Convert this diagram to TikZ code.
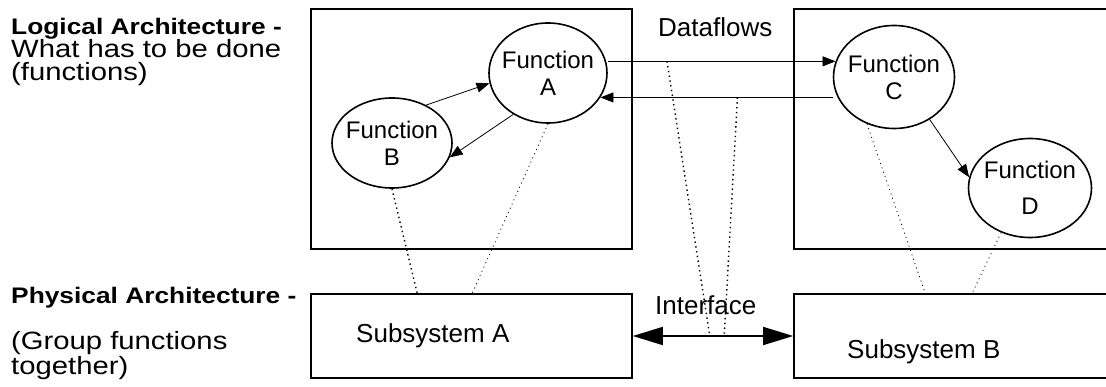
\documentclass[tikz,border=0pt]{standalone}
\usepackage{fontspec}
\setmainfont{Liberation Sans}
\newfontfamily\widesans[FakeStretch=1.17]{Liberation Sans}
\usetikzlibrary{arrows.meta, positioning, shapes.geometric}

\begin{document}
\begin{tikzpicture}[x=1pt, y=-1pt, >={Triangle[length=13pt, width=10pt]}]
      \tikzstyle{frameBox} = [rectangle, draw=black, line width=1.6pt, minimum width=321pt, inner sep=0pt]
      \tikzstyle{funcNode} = [ellipse, draw=black, line width=1.6pt, inner xsep=-5pt, inner ysep=0pt, align=center, font=\fontsize{24}{27}\selectfont]
      \tikzstyle{myText} = [anchor=base west, inner sep=0pt, font=\fontsize{26}{26}\selectfont]
      \tikzstyle{sideText} = [anchor=base west, inner sep=0pt, align=left, font=\widesans\fontsize{25}{23}\selectfont]
      \tikzstyle{flow} = [draw=black, line width=0.8pt, ->]
      \tikzstyle{ifArrow} = [draw=black, line width=1.6pt, {Triangle[length=30pt, width=18pt]}-{Triangle[length=30pt, width=18pt]}]
      \tikzstyle{mapLine} = [draw=black, line width=1.4pt, dash pattern=on 1.4pt off 3.4pt]
      \tikzstyle{mapLineThin} = [draw=black, line width=0.8pt, dash pattern=on 1pt off 3.6pt]

      \useasboundingbox (0,0) rectangle (1106,387);
      \clip (0,0) rectangle (1106,387);

      % Nodos
      \node [frameBox, minimum height=240pt] at (471.5,129) (logicA) {};
      \node [frameBox, minimum height=240pt] at (954.5,129) (logicB) {};
      \node [frameBox, minimum height=84pt] at (471.5,336) (subA) {};
      \node [frameBox, minimum height=84pt] at (954.5,336) (subB) {};

      \node [funcNode, minimum width=118pt, minimum height=100pt] at (548,73) (funcA) {Function\\A};
      \node [funcNode, minimum width=120pt, minimum height=90pt] at (392,143) (funcB) {Function\\B};
      \node [funcNode, minimum width=121pt, minimum height=103pt] at (894,77) (funcC) {Function\\C};
      \node [funcNode, minimum width=123pt, minimum height=99pt] at (1030,188) (funcD) {Function\\[9pt]D};

      \node [myText] at (658,37) (dataflows) {Dataflows};
      \node [myText] at (655,315) (interface) {Interface};
      \node [myText] at (356,342) (subAtext) {Subsystem A};
      \node [myText] at (847,359) (subBtext) {Subsystem B};

      \node [sideText] at (11,81) (logical) {{\fontsize{22.5}{23}\selectfont\bfseries Logical Architecture -}\\What has to be done\\(functions)};
      \node [sideText] at (11,374) (physical) {{\fontsize{22.5}{23}\selectfont\bfseries Physical Architecture -}\\[23pt](Group functions\\together)};

      % Conexiones
      \draw [flow] (funcB.48) -- (funcA.190);
      \draw [flow] (funcA.230) -- (funcB.-14);
      \draw [flow] (funcC.-50) -- (funcD.170);
      \draw [flow] (funcA.east |- funcC.165) -- coordinate[pos=0.26] (dfTop) (funcC.165);
      \draw [flow] (funcC.west |- funcA.-25) -- coordinate[pos=0.41] (dfBot) (funcA.-25);
      \draw [ifArrow] (subA.east) -- coordinate[pos=0.48] (ifA) coordinate[pos=0.57] (ifB) (subB.west);

      \draw [mapLine] (funcB.south) -- ([xshift=107pt]subA.north west);
      \draw [mapLineThin] (funcA.south) -- ([xshift=162pt]subA.north west);
      \draw [mapLine] (dfTop) -- (ifA);
      \draw [mapLine] (dfBot) -- (ifB);
      \draw [mapLineThin] (funcC.240) -- ([xshift=132pt]subB.north west);
      \draw [mapLineThin] (funcD.237) -- ([xshift=179pt]subB.north west);

    \end{tikzpicture}
\end{document}
